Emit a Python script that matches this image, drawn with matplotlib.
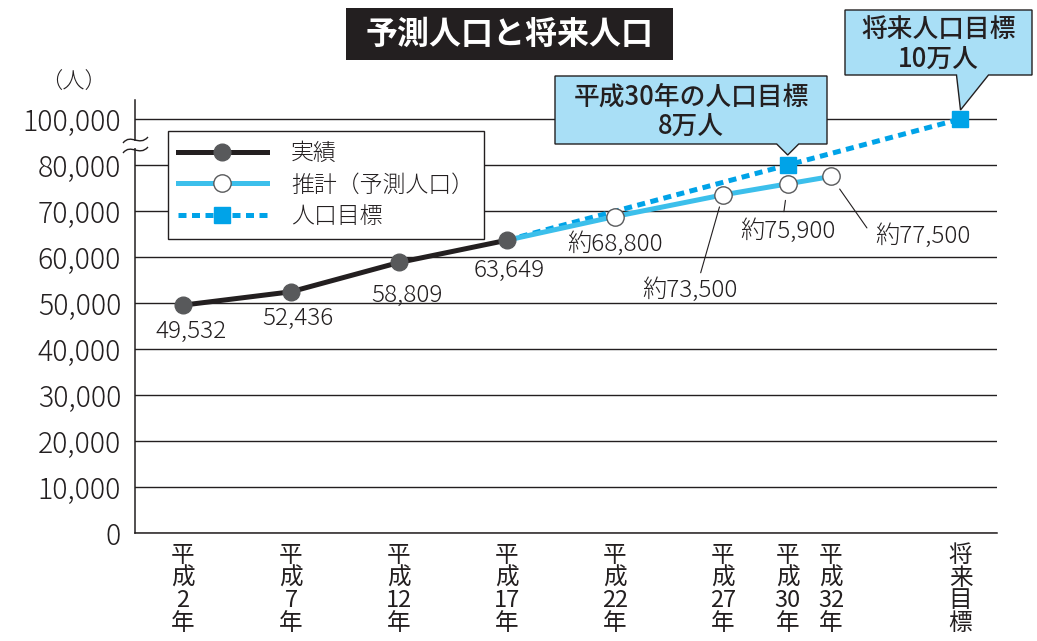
"""予測人口と将来人口の折れ線グラフ(縦軸は 80,000 と 100,000 の間を省略)。"""

import re

import matplotlib

matplotlib.use("Agg")
import matplotlib.pyplot as plt
from matplotlib.lines import Line2D
from matplotlib.patches import PathPatch, Polygon, Rectangle
from matplotlib.path import Path

plt.rcParams["font.family"] = ["Noto Sans CJK JP", "DejaVu Sans"]

# ---- データ -------------------------------------------------------------
years_actual = [2, 7, 12, 17]
pop_actual = [49532, 52436, 58809, 63649]

years_est = [17, 22, 27, 30, 32]
pop_est = [63649, 68800, 73500, 75900, 77500]
est_labels = ["約68,800", "約73,500", "約75,900", "約77,500"]

years_goal = [17, 30, 38]
pop_goal = [63649, 80000, 100000]

tick_pos = [2, 7, 12, 17, 22, 27, 30, 32, 38]
tick_names = ["平成2年", "平成7年", "平成12年", "平成17年", "平成22年",
              "平成27年", "平成30年", "平成32年", "将来目標"]
y_ticks = [0, 10000, 20000, 30000, 40000, 50000, 60000, 70000, 80000, 100000]

W, H = 1037, 641
INK = "#231f20"
GRAY = "#58595b"
BLUE = "#3cbfeb"
GOAL = "#00a3e8"
CALLOUT = "#a9dff6"


def brk(v):
    """80,000 を超える部分は半分に縮める(省略記号の区間)。"""
    return v if v <= 80000 else 80000 + (v - 80000) / 2


def fxy(x, y):
    """画像ピクセル(左上原点)→ figure 座標。"""
    return (x / W, 1 - y / H)


def vertical(s):
    return "\n".join(re.findall(r"\d+|.", s))


fig = plt.figure(figsize=(W / 100, H / 100), dpi=100)
ax = fig.add_axes([135 / W, 1 - 533 / H, (997 - 135) / W, (533 - 100) / H])
ax.set_xlim(-0.22, 39.69)
ax.set_ylim(0, 94130)

# 軸・目盛
for side in ("top", "right"):
    ax.spines[side].set_visible(False)
for side in ("left", "bottom"):
    ax.spines[side].set_color(INK)
    ax.spines[side].set_linewidth(1.1)
ax.set_yticks([brk(v) for v in y_ticks], [f"{v:,}" for v in y_ticks])
ax.set_xticks(tick_pos, [vertical(s) for s in tick_names])
ax.tick_params(axis="y", length=0, pad=10, labelsize=20.5, labelcolor=INK)
ax.tick_params(axis="x", length=0, pad=8, labelsize=17, labelcolor=INK)
for lab in ax.get_yticklabels():
    lab.set_fontweight("light")
for lab in ax.get_xticklabels():
    lab.set_linespacing(0.98)
ax.yaxis.grid(True, color=INK, linewidth=1.0)
ax.set_axisbelow(True)

# 系列
ax.plot(years_goal, [brk(v) for v in pop_goal], color=GOAL, lw=3.6,
        dashes=(1.6, 1.1), marker="s", markevery=[1, 2], ms=11,
        mec=GOAL, mfc=GOAL, zorder=3)
ax.plot(years_est, [brk(v) for v in pop_est], color=BLUE, lw=3.6,
        marker="o", markevery=list(range(1, len(years_est))), ms=12.5,
        mfc="white", mec=GRAY, mew=1.0, zorder=4)
ax.plot(years_actual, pop_actual, color=INK, lw=3.6, marker="o", ms=12,
        mfc=GRAY, mec=GRAY, zorder=5)

# 数値ラベル
txt = dict(fontsize=17.5, color=INK, ha="center", va="center",
           fontweight="light")
actual_offsets = [(6, -19), (5, -19), (6, -24), (1.5, -22)]
for x, v, off in zip(years_actual, pop_actual, actual_offsets):
    ax.annotate(f"{v:,}", (x, v), xytext=off, textcoords="offset points", **txt)

leader = dict(arrowstyle="-", color=INK, lw=0.8)
est_offsets = [(0, -20), (-24, -69), (0, -34), (66, -43)]
est_leader = [None,
              dict(relpos=(0.6, 1.0), shrinkA=2, shrinkB=9),
              dict(relpos=(0.45, 1.0), shrinkA=3, shrinkB=12),
              dict(relpos=(-0.05, 0.65), shrinkA=4, shrinkB=11)]
for x, v, lab, off, ld in zip(years_est[1:], pop_est[1:], est_labels,
                              est_offsets, est_leader):
    props = None if ld is None else {**leader, **ld}
    ax.annotate(lab, (x, brk(v)), xytext=off, textcoords="offset points",
                arrowprops=props, **txt)

# 凡例
handles = [
    Line2D([], [], color=INK, lw=3.6, marker="o", ms=12, mfc=GRAY, mec=GRAY),
    Line2D([], [], color=BLUE, lw=3.6, marker="o", ms=12.5, mfc="white",
           mec=GRAY, mew=1.0),
    Line2D([], [], color=GOAL, lw=3.6, dashes=(1.6, 1.1), marker="s", ms=11,
           mfc=GOAL, mec=GOAL),
]
leg = ax.legend(handles, ["実績", "推計（予測人口）", "人口目標"],
                loc="upper left", bbox_to_anchor=fxy(168, 131),
                bbox_transform=fig.transFigure, fontsize=16.5, numpoints=1,
                handlelength=3.9, handletextpad=1.05, labelspacing=0.3,
                borderpad=0.42, borderaxespad=0, fancybox=False,
                framealpha=1, edgecolor=INK, labelcolor=INK)
leg.get_frame().set_linewidth(1.0)
leg.set_zorder(6)
for t in leg.get_texts():
    t.set_fontweight("light")

# 縦軸の省略記号
ax.add_artist(Rectangle(fxy(126, 148), 20 / W, 7 / H, transform=fig.transFigure,
                        facecolor="white", edgecolor="none", clip_on=False,
                        zorder=7))
for yc in (140, 150):
    verts = [fxy(123, yc + 3), fxy(131, yc - 7), fxy(139, yc + 7),
             fxy(148, yc - 3)]
    path = Path(verts, [Path.MOVETO, Path.CURVE4, Path.CURVE4, Path.CURVE4])
    fig.add_artist(PathPatch(path, transform=fig.transFigure, fill=False,
                             edgecolor=INK, lw=1.0, zorder=8))

fig.text(*fxy(73, 83), "（人）", fontsize=16, color=INK, ha="center",
         va="center", fontweight="light")

# タイトル
fig.add_artist(Rectangle(fxy(346, 60), (673 - 346) / W, 52 / H,
                         transform=fig.transFigure, facecolor=INK,
                         edgecolor="none"))
fig.text(*fxy(510, 35), "予測人口と将来人口", fontsize=23, fontweight="bold",
         color="white", ha="center", va="center")


# 吹き出し
def callout(box, tip_data, base, gap, lines):
    left, top, right, bottom = box
    disp = ax.transData.transform(tip_data)
    fx, fy = fig.transFigure.inverted().transform(disp)
    tx, ty = fx * W, (1 - fy) * H - gap
    pts = [(left, top), (right, top), (right, bottom), (tx + base[1], bottom),
           (tx, ty), (tx + base[0], bottom), (left, bottom)]
    fig.add_artist(Polygon([fxy(*p) for p in pts], closed=True,
                           transform=fig.transFigure, facecolor=CALLOUT,
                           edgecolor=INK, lw=1.0, zorder=9))
    cx = (left + right) / 2
    for (ly, s) in lines:
        fig.text(*fxy(cx, ly), s, fontsize=18.5, fontweight="medium",
                 color=INK, ha="center", va="center", zorder=10)


callout((555, 76, 827, 144), (years_goal[1], brk(pop_goal[1])), (-11, 11), 10,
        [(97, "平成30年の人口目標"), (127, "8万人")])
callout((845, 10, 1032, 75), (years_goal[2], brk(pop_goal[2])), (-4, 28), 9,
        [(29, "将来人口目標"), (60, "10万人")])

fig.savefig("out.png", dpi=100)
